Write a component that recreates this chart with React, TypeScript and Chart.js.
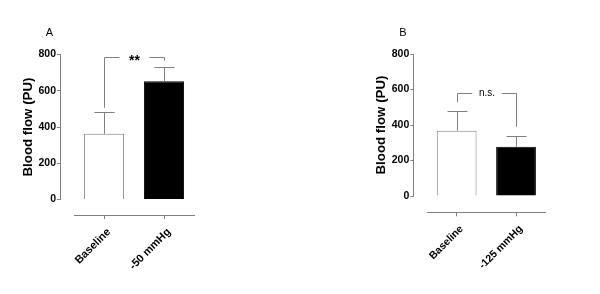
import React, { useEffect, useRef } from "react";
import { Chart, registerables } from "chart.js";

Chart.register(...registerables);

// ---- data ----
const categoriesA = ["Baseline", "-50 mmHg"];
const meansA = [363, 652];
const errorTopsA = [481, 729];

const categoriesB = ["Baseline", "-125 mmHg"];
const meansB = [368, 278];
const errorTopsB = [479, 336];

const yTickValues = [0, 200, 400, 600, 800];
const panelLetters = ["A", "B"];
const bracketLevels = [788, 583];
const bracketLeftEnds = [506, 528];
const bracketRightEnds = [766, 390];
const bracketLabels = ["**", "n.s."];
const yAxisTitle = "Blood flow (PU)";

// ---- style / layout ----
const GRAY = "#808080";
const FONT = "'Liberation Sans', Arial, Helvetica, sans-serif";
const BAR_FILLS = ["#ffffff", "#000000"];
const BAR_BORDERS = [GRAY, "#000000"];

type Layout = {
  padLeft: number;
  yAxisWidth: number;
  gapLeft: number;
  padRight: number;
  padTop: number;
  gapBottom: number;
  xAxisHeight: number;
  padBottom: number;
  xLabelSize: number;
};

const layouts: Layout[] = [
  { padLeft: 16, yAxisWidth: 44, gapLeft: 14, padRight: 106, padTop: 54.5, gapBottom: 15.5, xAxisHeight: 60, padBottom: 19, xLabelSize: 11 },
  { padLeft: 69.6, yAxisWidth: 43.7, gapLeft: 13.7, padRight: 54.3, padTop: 54, gapBottom: 16.3, xAxisHeight: 60, padBottom: 21.7, xLabelSize: 10.5 },
];

const panelData = [
  { categories: categoriesA, means: meansA, errorTops: errorTopsA },
  { categories: categoriesB, means: meansB, errorTops: errorTopsB },
];

function makeOverlay(index: number) {
  return {
    id: "overlay" + index,
    afterDatasetsDraw(chart: any) {
      const ctx = chart.ctx as CanvasRenderingContext2D;
      const x = chart.scales.x;
      const y = chart.scales.y;
      const meta = chart.getDatasetMeta(0);
      const { means, errorTops } = panelData[index];
      ctx.save();
      ctx.strokeStyle = GRAY;
      ctx.lineWidth = 1;
      // error bars (upper only)
      means.forEach((m, i) => {
        const bar = meta.data[i];
        const cx = Math.round(x.getPixelForValue(i)) + 0.5;
        const yTop = y.getPixelForValue(m);
        const yErr = Math.round(y.getPixelForValue(errorTops[i])) + 0.5;
        const half = bar.width / 4;
        ctx.beginPath();
        ctx.moveTo(cx, yTop);
        ctx.lineTo(cx, yErr);
        ctx.moveTo(cx - half, yErr);
        ctx.lineTo(cx + half, yErr);
        ctx.stroke();
      });
      // significance bracket
      const c1 = Math.round(x.getPixelForValue(0)) + 0.5;
      const c2 = Math.round(x.getPixelForValue(1)) + 0.5;
      const by = Math.round(y.getPixelForValue(bracketLevels[index])) + 0.5;
      const yl = y.getPixelForValue(bracketLeftEnds[index]);
      const yr = y.getPixelForValue(bracketRightEnds[index]);
      const seg = (c2 - c1) * 0.25;
      ctx.beginPath();
      ctx.moveTo(c1, yl);
      ctx.lineTo(c1, by);
      ctx.lineTo(c1 + seg, by);
      ctx.moveTo(c2 - seg, by);
      ctx.lineTo(c2, by);
      ctx.lineTo(c2, yr);
      ctx.stroke();
      const label = bracketLabels[index];
      const isStar = label.indexOf("*") >= 0;
      const size = isStar ? 14 : 10;
      ctx.font = (isStar ? "bold " : "") + size + "px " + FONT;
      ctx.fillStyle = "#000";
      ctx.textAlign = "center";
      ctx.textBaseline = "alphabetic";
      ctx.fillText(label, (c1 + c2) / 2, by + (isStar ? 0.57 : 0.26) * size);
      // panel letter
      ctx.font = "11px " + FONT;
      ctx.fillText(panelLetters[index], y.right - 10.5, chart.chartArea.top - 22.3 + 3.9);
      ctx.restore();
    },
  };
}

function Panel({ index, left }: { index: number; left: number }) {
  const ref = useRef<HTMLCanvasElement>(null);
  useEffect(() => {
    const L = layouts[index];
    const { categories, means } = panelData[index];
    const chart = new Chart(ref.current as HTMLCanvasElement, {
      type: "bar",
      data: {
        labels: categories,
        datasets: [
          {
            data: means,
            backgroundColor: BAR_FILLS,
            borderColor: BAR_BORDERS,
            borderWidth: 1,
            barPercentage: 0.67,
            categoryPercentage: 1,
            xAxisID: "x",
            yAxisID: "y",
          },
        ],
      },
      options: {
        responsive: false,
        animation: false,
        devicePixelRatio: 1,
        layout: {
          padding: { left: L.padLeft, right: L.padRight, top: L.padTop, bottom: L.padBottom },
        },
        plugins: { legend: { display: false }, tooltip: { enabled: false }, title: { display: false } },
        scales: {
          y: {
            type: "linear",
            position: "left",
            weight: 10,
            min: yTickValues[0],
            max: yTickValues[yTickValues.length - 1],
            afterBuildTicks: (s: any) => {
              s.ticks = yTickValues.map((v) => ({ value: v }));
            },
            afterFit: (s: any) => {
              s.width = L.yAxisWidth;
            },
            grid: { display: true, drawOnChartArea: false, drawTicks: true, tickLength: 3, color: GRAY, lineWidth: 1 },
            border: { display: true, color: GRAY, width: 1 },
            ticks: { color: "#000", padding: 1, font: { family: FONT, size: 10.5, weight: "bold" } },
            title: {
              display: true,
              text: yAxisTitle,
              color: "#000",
              padding: { top: 4, bottom: 4 },
              font: { family: FONT, size: 13.3, weight: "bold" },
            },
          },
          yPad: {
            type: "linear",
            position: "left",
            weight: 0,
            display: true,
            grid: { display: false },
            border: { display: false },
            ticks: { display: false },
            afterFit: (s: any) => {
              s.width = L.gapLeft;
            },
          },
          x: {
            type: "category",
            position: "bottom",
            weight: 10,
            offset: true,
            afterFit: (s: any) => {
              s.height = L.xAxisHeight;
            },
            grid: { display: true, offset: false, drawOnChartArea: false, drawTicks: true, tickLength: 4, color: GRAY, lineWidth: 1 },
            border: { display: true, color: GRAY, width: 1 },
            ticks: {
              color: "#000",
              padding: 6.5,
              labelOffset: 5,
              minRotation: 45,
              maxRotation: 45,
              autoSkip: false,
              font: { family: FONT, size: L.xLabelSize, weight: "bold" },
            },
          },
          xPad: {
            type: "linear",
            position: "bottom",
            weight: 0,
            display: true,
            grid: { display: false },
            border: { display: false },
            ticks: { display: false },
            afterFit: (s: any) => {
              s.height = L.gapBottom;
            },
          },
        },
      } as any,
      plugins: [makeOverlay(index)],
    });
    return () => chart.destroy();
  }, [index]);
  return (
    <canvas
      ref={ref}
      width={300}
      height={294}
      style={{ position: "absolute", left, top: 0, width: 300, height: 294 }}
    />
  );
}

export default function App() {
  return (
    <div style={{ position: "absolute", left: 0, top: 0, width: 600, height: 294, background: "#fff" }}>
      <Panel index={0} left={0} />
      <Panel index={1} left={300} />
    </div>
  );
}
